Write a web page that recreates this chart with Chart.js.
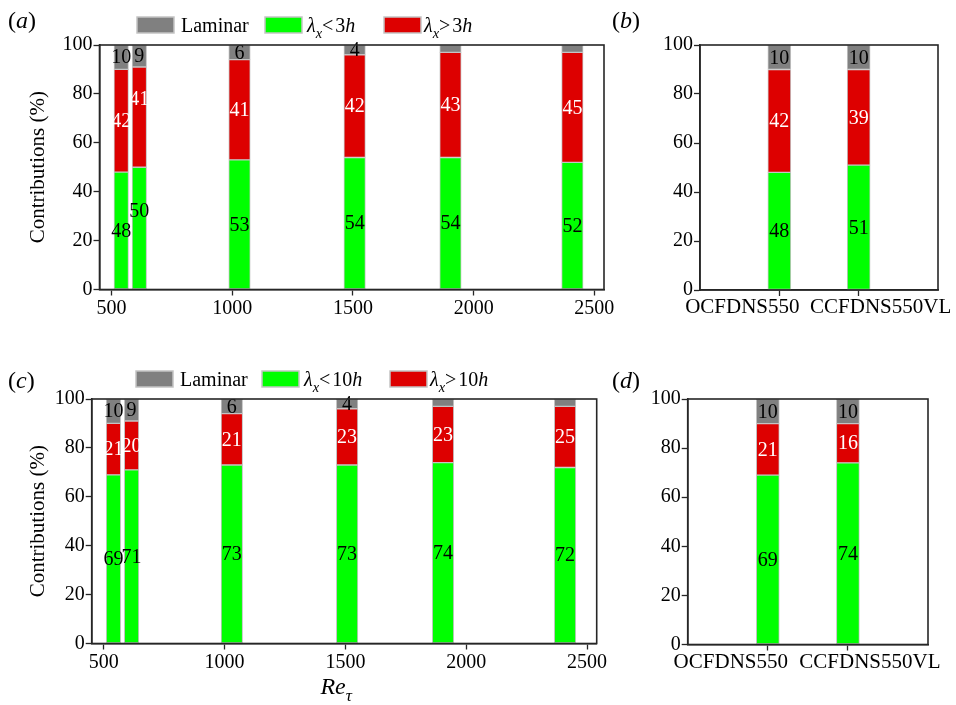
<!DOCTYPE html>
<html><head><meta charset="utf-8">
<script src="https://cdn.jsdelivr.net/npm/chart.js@4.4.1/dist/chart.umd.min.js"></script>
<style>
html,body{margin:0;padding:0;background:#fff;width:956px;height:705px;overflow:hidden}
canvas{position:absolute;display:block}
</style></head><body>
<canvas id="pa" width="620" height="340" style="left:0;top:0"></canvas>
<canvas id="pb" width="356" height="340" style="left:600px;top:0"></canvas>
<canvas id="pc" width="620" height="350" style="left:0;top:355px"></canvas>
<canvas id="pd" width="356" height="350" style="left:600px;top:355px"></canvas>
<script>
// ---------- data ----------
const reTau = [540, 615, 1030, 1507, 1904, 2409];
const reTicks = [500, 1000, 1500, 2000, 2500];
const yTicks = [0, 20, 40, 60, 80, 100];
const cases = ['OCFDNS550', 'CCFDNS550VL'];
const casePos = [1, 2];

// panel (a): split at 3h
const shortA = [48, 50, 53, 54, 54, 52];
const longA = [42, 41, 41, 42, 43, 45];
const laminarA = [10, 9, 6, 4, 3, 3];
// panel (b)
const shortB = [48, 51];
const longB = [42, 39];
const laminarB = [10, 10];
// panel (c): split at 10h
const shortC = [69, 71, 73, 73, 74, 72];
const longC = [21, 20, 21, 23, 23, 25];
const laminarC = [10, 9, 6, 4, 3, 3];
// panel (d)
const shortD = [69, 74];
const longD = [21, 16];
const laminarD = [10, 10];

const yTitle = 'Contributions (%)';
const legend3h = [
  [{t:'Laminar'}],
  [{t:'λ',it:1},{t:'x',it:1,sub:1},{t:'<',post:2},{t:'3'},{t:'h',it:1}],
  [{t:'λ',it:1},{t:'x',it:1,sub:1},{t:'>',post:2},{t:'3'},{t:'h',it:1}]
];
const legend10h = [
  [{t:'Laminar'}],
  [{t:'λ',it:1},{t:'x',it:1,sub:1},{t:'<',post:2},{t:'10'},{t:'h',it:1}],
  [{t:'λ',it:1},{t:'x',it:1,sub:1},{t:'>',post:2},{t:'10'},{t:'h',it:1}]
];
const xTitleRe = [{t:'Re',it:1},{t:'τ',it:1,sub:1}];

// ---------- styles ----------
const FONT = "'Liberation Serif','Times New Roman','DejaVu Serif',serif";
const COLORS = ['#00ff00', '#dd0000', '#808080'];    // short, long, laminar (stack order)
const TXT = ['#000', '#fff', '#000'];
const LEGEND_ORDER = [2, 0, 1];
const AXIS = '#262626';
const CASE_LABEL_SHIFT = [-37, 22];

function drawRich(ctx, segs, x, y, size) {
  let cx = x;
  ctx.textBaseline = 'alphabetic';
  ctx.textAlign = 'left';
  segs.forEach(s => {
    const fs = s.sub ? size * 0.72 : size;
    ctx.font = (s.it ? 'italic ' : '') + fs + 'px ' + FONT;
    ctx.fillText(s.t, cx, y + (s.sub ? size * 0.3 : 0));
    cx += ctx.measureText(s.t).width + (s.post || 0);
  });
  return cx - x;
}
function richWidth(ctx, segs, size) {
  let w = 0;
  segs.forEach(s => {
    const fs = s.sub ? size * 0.72 : size;
    ctx.font = (s.it ? 'italic ' : '') + fs + 'px ' + FONT;
    w += ctx.measureText(s.t).width + (s.post || 0);
  });
  return w;
}

function makePanel(id, p) {
  const canvas = document.getElementById(id);
  const W = canvas.width, H = canvas.height;
  const datasets = [];
  p.vals.forEach((arr, si) => {
    p.xs.forEach((x, i) => {
      datasets.push({
        data: [{x: x, y: arr[i]}],
        backgroundColor: COLORS[si],
        borderColor: '#c4c4c4',
        borderWidth: 1,
        borderSkipped: false,
        barThickness: p.widths[i],
        sIdx: si, bIdx: i
      });
    });
  });

  const deco = {
    id: 'deco',
    afterDatasetsDraw(chart) {
      const ctx = chart.ctx;
      ctx.save();
      ctx.font = '20px ' + FONT;
      ctx.textAlign = 'center';
      ctx.textBaseline = 'middle';
      chart.data.datasets.forEach((ds, k) => {
        const el = chart.getDatasetMeta(k).data[0];
        const v = ds.data[0].y;
        if (!el || v < 4) return;
        const nudge = (p.nudge && p.nudge[ds.bIdx] && p.nudge[ds.bIdx][ds.sIdx]) || 0;
        ctx.fillStyle = TXT[ds.sIdx];
        ctx.fillText(String(v), el.x, (el.y + el.base) / 2 + 1 + nudge);
      });
      ctx.restore();
    },
    afterDraw(chart) {
      const ctx = chart.ctx, a = chart.chartArea;
      ctx.save();
      ctx.strokeStyle = AXIS;
      ctx.lineWidth = 1.6;
      ctx.strokeRect(a.left, a.top, a.right - a.left, a.bottom - a.top);
      ctx.fillStyle = '#000';
      // panel label
      drawRich(ctx, [{t:'('},{t:p.tag,it:1},{t:')'}], p.tagX, p.tagY, 24);
      // case labels (spread apart so they do not collide)
      if (p.caseLabels) {
        ctx.font = '21px ' + FONT;
        ctx.textAlign = 'center';
        ctx.textBaseline = 'top';
        ctx.fillStyle = '#000';
        p.caseLabels.forEach((t, i) => {
          const px = chart.scales.x.getPixelForValue(p.xs[i]) + CASE_LABEL_SHIFT[i];
          ctx.fillText(t, px, a.bottom + 7);
        });
      }
      // legend
      if (p.legend) {
        LEGEND_ORDER.forEach((si, j) => {
          const bx = p.legendX[j];
          ctx.fillStyle = COLORS[si];
          ctx.fillRect(bx, p.legendY, 37, 16);
          ctx.strokeStyle = '#c4c4c4';
          ctx.lineWidth = 1.5;
          ctx.strokeRect(bx, p.legendY, 37, 16);
          ctx.fillStyle = '#000';
          drawRich(ctx, p.legend[j], bx + 37 + p.legendGap[j], p.legendY + 15, 20);
        });
      }
      if (p.xTitle) {
        const w = richWidth(ctx, p.xTitle, 24);
        ctx.fillStyle = '#000';
        drawRich(ctx, p.xTitle, (a.left + a.right) / 2 - w / 2 - 8, H - 11, 24);
      }
      ctx.restore();
    }
  };

  const tickFont = {family: FONT, size: 20};
  return new Chart(canvas, {
    type: 'bar',
    data: {datasets},
    options: {
      responsive: false,
      animation: false,
      events: [],
      layout: {padding: {left: 0, top: p.area.top, right: W - p.area.right, bottom: 0}},
      plugins: {legend: {display: false}, tooltip: {enabled: false}},
      scales: {
        x: {
          type: 'linear', stacked: true, min: p.xMin, max: p.xMax, offset: false,
          afterBuildTicks: sc => { sc.ticks = p.xTicks.map(v => ({value: v})); },
          afterFit: sc => { sc.height = H - p.area.bottom; },
          ticks: {font: tickFont, color: '#000', padding: 1, maxRotation: 0, autoSkip: false,
                  callback: p.xLabel},
          grid: {offset: false, drawOnChartArea: false, drawTicks: true, tickLength: 6, tickColor: AXIS, tickWidth: 1.3},
          border: {display: true, color: AXIS, width: 1.6}
        },
        y: {
          type: 'linear', stacked: true, min: 0, max: 100,
          afterBuildTicks: sc => { sc.ticks = yTicks.map(v => ({value: v})); },
          afterFit: sc => { sc.width = p.area.left; },
          ticks: {font: tickFont, color: '#000', padding: 1},
          grid: {drawOnChartArea: false, drawTicks: true, tickLength: 6, tickColor: AXIS, tickWidth: 1.3},
          border: {display: true, color: AXIS, width: 1.6},
          title: {display: !!p.yTitle, text: p.yTitle || '', font: {family: FONT, size: 21},
                  color: '#000', padding: {top: 26, bottom: 0}}
        }
      }
    },
    plugins: [deco]
  });
}

const reWidths = [14.5, 14.5, 21.5, 21.5, 21.5, 21.5];
const caseWidths = [23, 23];

makePanel('pa', {
  xs: reTau, vals: [shortA, longA, laminarA], widths: reWidths,
  xMin: 450, xMax: 2540, xTicks: reTicks, xLabel: v => String(v),
  area: {left: 99.5, top: 45, right: 604, bottom: 289.5},
  yTitle: yTitle, tag: 'a', tagX: 8, tagY: 28,
  legend: legend3h, legendX: [137, 265, 384], legendGap: [7, 5, 3], legendY: 17,
  nudge: {1: {0: -17, 1: -18}}
});
makePanel('pb', {
  xs: casePos, vals: [shortB, longB, laminarB], widths: caseWidths,
  xMin: 0, xMax: 3, xTicks: casePos, xLabel: () => '', caseLabels: cases,
  area: {left: 100, top: 45, right: 338, bottom: 290},
  tag: 'b', tagX: 12, tagY: 28
});
makePanel('pc', {
  xs: reTau, vals: [shortC, longC, laminarC], widths: reWidths,
  xMin: 450, xMax: 2540, xTicks: reTicks, xLabel: v => String(v),
  area: {left: 91.7, top: 44, right: 596.7, bottom: 288.5},
  yTitle: yTitle, tag: 'c', tagX: 8, tagY: 33,
  legend: legend10h, legendX: [136, 262, 390], legendGap: [7, 5, 3], legendY: 16,
  xTitle: xTitleRe
});
makePanel('pd', {
  xs: casePos, vals: [shortD, longD, laminarD], widths: caseWidths,
  xMin: 0, xMax: 3, xTicks: casePos, xLabel: () => '', caseLabels: cases,
  area: {left: 87.7, top: 44, right: 328, bottom: 289.5},
  tag: 'd', tagX: 12, tagY: 33
});
</script>
</body></html>
